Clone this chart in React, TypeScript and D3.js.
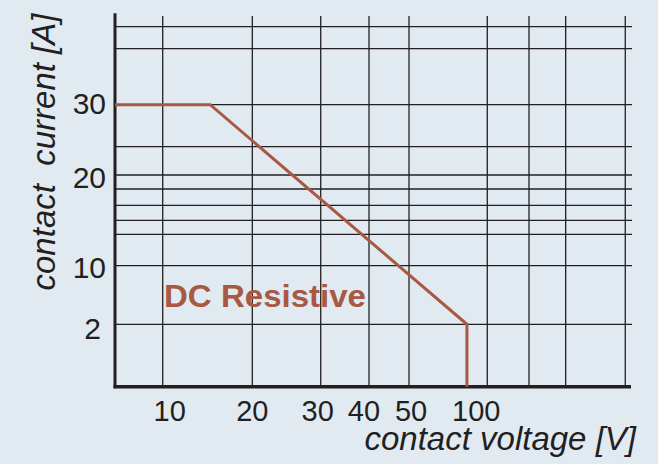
import React from "react";
import * as d3 from "d3";

// ---- data ----
const xGridValues = [10, 20, 30, 40, 50, 100, 200, 300, 500];
const xTickValues = [10, 20, 30, 40, 50, 100];
const yGridValues = [2, 10, 12, 14, 16, 18, 20, 25, 30, 40, 50];
const yTickValues = [30, 20, 10, 2];
const curveVoltage = [5, 15.3, 87, 87];
const curveCurrent = [30, 30, 2, 0];
const seriesLabel = "DC Resistive";

// ---- layout (non-uniform printed axes, piecewise) ----
const W = 658, H = 464;
const L = 115, R = 632, T = 13.3, B = 386.7;
const xAnchorValues = [5, 10, 20, 30, 40, 50, 100, 200, 300, 500, 520];
const xAnchorFrac = [0, 0.0923, 0.2656, 0.3979, 0.4913, 0.5687, 0.7201, 0.8008, 0.8717, 0.987, 1];
const yAnchorValues = [0, 2, 10, 12, 14, 16, 18, 20, 25, 30, 40, 50, 60];
const yAnchorFrac = [0, 0.1671, 0.324, 0.4081, 0.4456, 0.4858, 0.5295, 0.567, 0.6427, 0.7552, 0.9052, 0.9641, 1];
const xLabelNudge = [7, 0, -3, -5, 2, -11];
const yLabelNudge = [-2, 2, 1, 4];
const yLabelDx = [0, 0, 0, -5];

const x = d3.scaleLinear().domain(xAnchorValues).range(xAnchorFrac.map((f) => L + f * (R - L)));
const y = d3.scaleLinear().domain(yAnchorValues).range(yAnchorFrac.map((f) => B - f * (B - T)));

const BG = "#e1eaf0";
const INK = "#231f20";
const RED = "#a85843";
const FONT = "'Liberation Sans', Arial, Helvetica, sans-serif";

export default function App() {
  const pts: [number, number][] = curveVoltage.map((v, i) => [x(v), y(curveCurrent[i])]);
  const path = d3.line()(pts) || "";
  return (
    <svg width={W} height={H} style={{ position: "absolute", left: 0, top: 0, background: BG }} fontFamily={FONT}>
      <rect x={0} y={0} width={W} height={H} fill={BG} />
      {yGridValues.map((v) => (
        <line key={"h" + v} x1={L} x2={R} y1={y(v)} y2={y(v)} stroke={INK} strokeWidth={1.3} />
      ))}
      {xGridValues.map((v) => (
        <line key={"v" + v} x1={x(v)} x2={x(v)} y1={16} y2={B} stroke={INK} strokeWidth={1.3} />
      ))}
      <line x1={L} x2={L} y1={T} y2={B + 1.5} stroke={INK} strokeWidth={3} />
      <line x1={L - 1.5} x2={631} y1={B} y2={B} stroke={INK} strokeWidth={3.5} />
      <path d={path} fill="none" stroke={RED} strokeWidth={3} strokeLinejoin="miter" />
      {xTickValues.map((v, i) => (
        <text key={"xt" + v} x={x(v) + xLabelNudge[i]} y={421} textAnchor="middle" fontSize={29} fill={INK}>
          {v}
        </text>
      ))}
      {yTickValues.map((v, i) => (
        <text key={"yt" + v} x={106 + yLabelDx[i]} y={y(v) + 11 + yLabelNudge[i]} textAnchor="end" fontSize={30} fill={INK}>
          {v}
        </text>
      ))}
      <text x={164} y={307.3} fontSize={31} fontWeight="bold" fill={RED} textLength={202} lengthAdjust="spacingAndGlyphs">
        {seriesLabel}
      </text>
      <text x={636} y={450} textAnchor="end" fontSize={33} fontStyle="italic" fill={INK}>
        contact voltage [V]
      </text>
      <text
        transform="translate(55,152) rotate(-90)"
        textAnchor="middle"
        fontSize={33}
        fontStyle="italic"
        fill={INK}
        style={{ whiteSpace: "pre" }}
      >
        {"contact  current [A]"}
      </text>
    </svg>
  );
}
